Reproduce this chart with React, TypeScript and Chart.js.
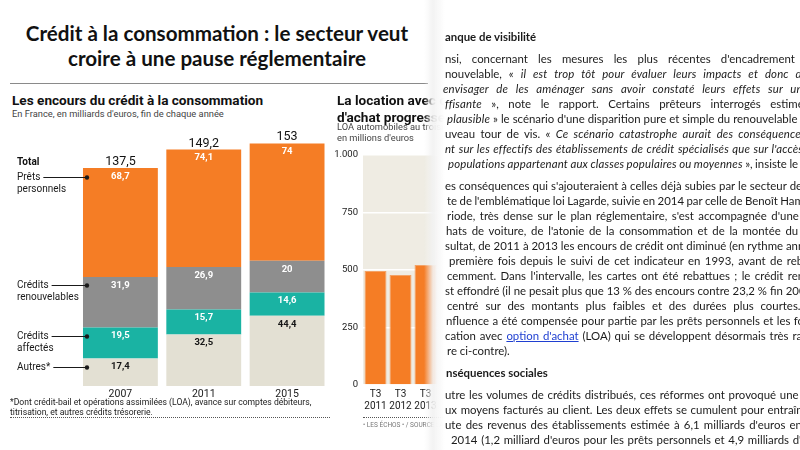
import React, { useEffect, useRef } from "react";
import { Chart, registerables } from "chart.js";

Chart.register(...registerables);

// ---- Data: encours du crédit à la consommation (milliards d'euros) ----
const years = ["2007", "2011", "2015"];
const autres = [17.4, 32.5, 44.4];
const creditsAffectes = [19.5, 15.7, 14.6];
const creditsRenouvelables = [31.9, 26.9, 20];
const pretsPersonnels = [68.7, 74.1, 74];
const seriesLabels = [["Autres*"], ["Crédits", "affectés"], ["Crédits", "renouvelables"], ["Prêts", "personnels"]];
const seriesColors = ["#e3e0d3", "#1ab3a3", "#8e8e8e", "#f57d25"];
const seriesTextColors = ["#161616", "#ffffff", "#ffffff", "#ffffff"];

// ---- Data: LOA automobiles (millions d'euros) ----
const loaLabels = [["T3", "2011"], ["T3", "2012"], ["T3", "2013"]];
const loaValues = [496, 478, 522];
const loaTicks = [0, 250, 500, 750, 1000];

type Seg = [string, "n" | "i" | "b" | "a"];
const articleLines: { y: number; x: number; ws: number; segs: Seg[] }[] = [
  { y: 37, x: 21, ws: 0, segs: [["anque de visibilité", "b"]] },
  { y: 59, x: 21, ws: 7.3, segs: [["nsi, concernant les mesures les plus récentes d'encadrement du crédit", "n"]] },
  { y: 74, x: 21, ws: 4.0, segs: [["nouvelable, « ", "n"], ["il est trop tôt pour évaluer leurs impacts et donc de", "i"]] },
  { y: 89, x: 19, ws: 4.8, segs: [["envisager de les aménager sans avoir constaté leurs effets sur une", "i"]] },
  { y: 104, x: 21, ws: 6.6, segs: [["ffisante", "i"], [" », note le rapport. Certains prêteurs interrogés estiment", "n"]] },
  { y: 119, x: 23, ws: 0.1, segs: [["plausible", "i"], [" » le scénario d'une disparition pure et simple du renouvelable", "n"]] },
  { y: 134, x: 21, ws: 2.4, segs: [["uveau tour de vis. « ", "n"], ["Ce scénario catastrophe aurait des conséquences", "i"]] },
  { y: 149, x: 21, ws: 0.6, segs: [["nt sur les effectifs des établissements de crédit spécialisés que sur l'accès", "i"]] },
  { y: 164, x: 24, ws: -0.4, segs: [["populations appartenant aux classes populaires ou moyennes", "i"], [" », insiste le", "n"]] },
  { y: 186, x: 21, ws: 0.15, segs: [["es conséquences qui s'ajouteraient à celles déjà subies par le secteur depuis", "n"]] },
  { y: 201, x: 23, ws: -0.45, segs: [["te de l'emblématique loi Lagarde, suivie en 2014 par celle de Benoît Hamon.", "n"]] },
  { y: 216, x: 23, ws: 1.6, segs: [["riode, très dense sur le plan réglementaire, s'est accompagnée d'une", "n"]] },
  { y: 231, x: 22, ws: 1.8, segs: [["hats de voiture, de l'atonie de la consommation et de la montée du", "n"]] },
  { y: 246, x: 21, ws: 0, segs: [["sultat, de 2011 à 2013 les encours de crédit ont diminué (en rythme annuel)", "n"]] },
  { y: 261, x: 25, ws: 1.5, segs: [["première fois depuis le suivi de cet indicateur en 1993, avant de rebondir", "n"]] },
  { y: 276, x: 23, ws: 1.5, segs: [["cemment. Dans l'intervalle, les cartes ont été rebattues ; le crédit renouvelable", "n"]] },
  { y: 291, x: 21, ws: 0, segs: [["st effondré (il ne pesait plus que 13 % des encours contre 23,2 % fin 2007)", "n"]] },
  { y: 306, x: 23, ws: 3.9, segs: [["centré sur des montants plus faibles et des durées plus courtes. Son", "n"]] },
  { y: 321, x: 22, ws: 0.5, segs: [["nfluence a été compensée pour partie par les prêts personnels et les formules", "n"]] },
  { y: 336, x: 21, ws: 1.0, segs: [["cation avec ", "n"], ["option d'achat", "a"], [" (LOA) qui se développent désormais très rapidement", "n"]] },
  { y: 351, x: 23, ws: 0, segs: [["re ci-contre).", "n"]] },
  { y: 373, x: 22, ws: 0, segs: [["nséquences sociales", "b"]] },
  { y: 395, x: 21, ws: 0.8, segs: [["utre les volumes de crédits distribués, ces réformes ont provoqué une baisse", "n"]] },
  { y: 410, x: 21, ws: 0.7, segs: [["ux moyens facturés au client. Les deux effets se cumulent pour entraîner", "n"]] },
  { y: 425, x: 21, ws: 1.3, segs: [["ute des revenus des établissements estimée à 6,1 milliards d'euros entre", "n"]] },
  { y: 440, x: 27, ws: 0.8, segs: [["2014 (1,2 milliard d'euros pour les prêts personnels et 4,9 milliards d'euros", "n"]] },
];

const fmt = (v: number) => String(Math.round(v * 10) / 10).replace(".", ",");
const GRAPH_FONT = "Roboto, 'Liberation Sans', sans-serif";

const encoursPlugin = {
  id: "encoursLabels",
  afterDatasetsDraw(chart: any) {
    const ctx = chart.ctx as CanvasRenderingContext2D;
    ctx.save();
    const n = chart.data.datasets.length;
    chart.data.datasets.forEach((ds: any, i: number) => {
      const meta = chart.getDatasetMeta(i);
      meta.data.forEach((el: any, j: number) => {
        const top = Math.min(el.y, el.base);
        ctx.font = `bold 9.5px ${GRAPH_FONT}`;
        ctx.fillStyle = seriesTextColors[i];
        ctx.textAlign = "center";
        ctx.textBaseline = "middle";
        ctx.fillText(fmt(ds.data[j]), el.x, top + 8.5);
      });
      const el0 = meta.data[0];
      const y = Math.round(Math.min(el0.y, el0.base) + 8.5);
      const left = el0.x - el0.width / 2;
      const lines = seriesLabels[i];
      ctx.font = `10px ${GRAPH_FONT}`;
      ctx.fillStyle = "#1a1a1a";
      ctx.textAlign = "left";
      ctx.textBaseline = "middle";
      lines.forEach((t, k) => ctx.fillText(t, 17, y + k * 12));
      const w = ctx.measureText(lines[0]).width;
      ctx.strokeStyle = "#1a1a1a";
      ctx.lineWidth = 1;
      ctx.beginPath();
      ctx.moveTo(17 + w + 3, y + 0.5);
      ctx.lineTo(left + 4, y + 0.5);
      ctx.stroke();
      ctx.beginPath();
      ctx.arc(left + 4, y + 0.5, 2.2, 0, Math.PI * 2);
      ctx.fill();
    });
    const topMeta = chart.getDatasetMeta(n - 1);
    topMeta.data.forEach((el: any, j: number) => {
      const total = chart.data.datasets.reduce((s: number, d: any) => s + d.data[j], 0);
      ctx.font = `12.5px ${GRAPH_FONT}`;
      ctx.fillStyle = "#111";
      ctx.textAlign = "center";
      ctx.textBaseline = "alphabetic";
      ctx.fillText(fmt(total), el.x, el.y - 3);
    });
    ctx.font = `bold 10px ${GRAPH_FONT}`;
    ctx.fillStyle = "#111";
    ctx.textAlign = "left";
    ctx.textBaseline = "middle";
    ctx.fillText("Total", 17, topMeta.data[0].y - 6);
    ctx.restore();
  },
};

const loaBgPlugin = {
  id: "loaBg",
  beforeDraw(chart: any) {
    const { ctx, chartArea } = chart;
    ctx.save();
    ctx.fillStyle = "#efece3";
    ctx.fillRect(chartArea.left, chartArea.top, chartArea.right - chartArea.left, chartArea.bottom - chartArea.top);
    ctx.restore();
  },
};

function EncoursChart() {
  const ref = useRef<HTMLCanvasElement>(null);
  useEffect(() => {
    const datasets = [autres, creditsAffectes, creditsRenouvelables, pretsPersonnels].map((data, i) => ({
      label: seriesLabels[i].join(" "),
      data,
      backgroundColor: seriesColors[i],
      borderWidth: 0,
      barPercentage: 75 / 83.5,
      categoryPercentage: 1,
    }));
    const chart = new Chart(ref.current!, {
      type: "bar",
      data: { labels: years, datasets },
      options: {
        animation: false,
        responsive: false,
        devicePixelRatio: 1,
        layout: { padding: { left: 78.75, right: 430 - 328.75, top: 386 - 160 * 1.585, bottom: 450 - 386 - 20 } },
        plugins: { legend: { display: false }, tooltip: { enabled: false } },
        scales: {
          x: {
            stacked: true,
            grid: { display: false, drawTicks: false },
            border: { display: false },
            ticks: { color: "#1a1a1a", font: { family: GRAPH_FONT, size: 10.5 }, padding: 2 },
            afterFit: (s: any) => {
              s.height = 20;
            },
          },
          y: { stacked: true, display: false, min: 0, max: 160 },
        },
      },
      plugins: [encoursPlugin],
    } as any);
    return () => chart.destroy();
  }, []);
  return <canvas ref={ref} width={430} height={450} style={{ position: "absolute", left: 0, top: 0, width: 430, height: 450 }} />;
}

function LoaChart() {
  const ref = useRef<HTMLCanvasElement>(null);
  useEffect(() => {
    const chart = new Chart(ref.current!, {
      type: "bar",
      data: {
        labels: loaLabels,
        datasets: [
          {
            label: "LOA",
            data: loaValues,
            backgroundColor: "#f57d25",
            borderColor: "#f3a266",
            borderWidth: 1,
            barPercentage: 22 / 25,
            categoryPercentage: 1,
          },
        ],
      },
      options: {
        animation: false,
        responsive: false,
        devicePixelRatio: 1,
        layout: { padding: { left: 0, right: 180 - 118, top: 15, bottom: 280 - 245 - 25 } },
        plugins: { legend: { display: false }, tooltip: { enabled: false } },
        scales: {
          x: {
            grid: { display: false, drawTicks: false },
            border: { display: false },
            ticks: {
              color: "#1a1a1a",
              font: { family: GRAPH_FONT, size: 10 },
              padding: 3,
              maxRotation: 0,
              minRotation: 0,
              autoSkip: false,
            },
            afterFit: (s: any) => {
              s.height = 25;
            },
          },
          y: {
            min: 0,
            max: 1000,
            afterBuildTicks: (s: any) => {
              s.ticks = loaTicks.map((v) => ({ value: v }));
            },
            grid: { color: "#ffffff", lineWidth: 1.5, drawTicks: false },
            border: { display: false },
            ticks: {
              color: "#1a1a1a",
              font: { family: GRAPH_FONT, size: 9.5 },
              padding: 5,
              callback: (v: any) => (Number(v) >= 1000 ? String(v).replace(/(\d)(\d{3})$/, "$1.$2") : String(v)),
            },
            afterFit: (s: any) => {
              s.width = 43;
            },
          },
        },
      },
      plugins: [loaBgPlugin],
    } as any);
    return () => chart.destroy();
  }, []);
  return <canvas ref={ref} width={180} height={280} style={{ position: "absolute", left: 320, top: 140, width: 180, height: 280 }} />;
}

function Article() {
  return (
    <div
      style={{
        position: "absolute",
        left: 424,
        top: 0,
        width: 376,
        height: 450,
        overflow: "hidden",
        background: "linear-gradient(to right, rgba(255,255,255,0) 0px, rgba(242,242,242,0.92) 9px, #ffffff 21px)",
        fontFamily: "Lato, 'Open Sans', sans-serif",
        fontSize: 11.4,
        color: "#1b1b1b",
      }}
    >
      {articleLines.map((ln, k) => (
        <div
          key={k}
          style={{ position: "absolute", left: ln.x, top: ln.y - 8, lineHeight: "16px", whiteSpace: "pre", wordSpacing: ln.ws }}
        >
          {ln.segs.map(([t, s], m) => (
            <span
              key={m}
              style={{
                fontStyle: s === "i" ? "italic" : "normal",
                fontWeight: s === "b" ? 700 : 400,
                letterSpacing: s === "i" ? 0.15 : undefined,
                color: s === "a" ? "#1f3fd1" : undefined,
                textDecoration: s === "a" ? "underline" : undefined,
              }}
            >
              {t}
            </span>
          ))}
        </div>
      ))}
    </div>
  );
}

export default function App() {
  return (
    <div style={{ position: "fixed", left: 0, top: 0, width: 800, height: 450, overflow: "hidden", background: "#fff" }}>
      <div
        style={{
          position: "absolute",
          left: 3,
          top: 21,
          width: 428,
          textAlign: "center",
          fontFamily: "Lato, sans-serif",
          fontWeight: 700,
          fontSize: 20.6,
          lineHeight: "25px",
          color: "#111",
        }}
      >
        Crédit à la consommation : le secteur veut
        <br />
        croire à une pause réglementaire
      </div>
      <div style={{ position: "absolute", left: 10, top: 83, width: 418, height: 1, background: "#8a8a8a" }} />

      <div style={{ position: "absolute", left: 12, top: 92, fontFamily: GRAPH_FONT, fontWeight: 700, fontSize: 13.6, lineHeight: "16px", color: "#111", whiteSpace: "nowrap" }}>
        Les encours du crédit à la consommation
      </div>
      <div style={{ position: "absolute", left: 12, top: 108, fontFamily: GRAPH_FONT, fontSize: 9.3, lineHeight: "12px", color: "#444", whiteSpace: "nowrap" }}>
        En France, en milliards d'euros, fin de chaque année
      </div>

      <EncoursChart />

      <div style={{ position: "absolute", left: 10, top: 398, fontFamily: GRAPH_FONT, fontSize: 8.6, lineHeight: "9.5px", color: "#1a1a1a", whiteSpace: "nowrap" }}>
        *Dont crédit-bail et opérations assimilées (LOA), avance sur comptes débiteurs,
        <br />
        titrisation, et autres crédits trésorerie.
      </div>
      <div style={{ position: "absolute", left: 10, top: 417, width: 320, height: 0, borderTop: "1px dotted #555" }} />

      <div style={{ position: "absolute", left: 337, top: 92, fontFamily: GRAPH_FONT, fontWeight: 700, fontSize: 13.6, lineHeight: "17px", color: "#111", whiteSpace: "nowrap" }}>
        La location avec option
        <br />
        d'achat progresse
      </div>
      <div style={{ position: "absolute", left: 337, top: 121, fontFamily: GRAPH_FONT, fontSize: 9.3, lineHeight: "11px", color: "#444", whiteSpace: "nowrap" }}>
        LOA automobiles au troisième trimestre,
        <br />
        en millions d'euros
      </div>

      <LoaChart />

      <div style={{ position: "absolute", left: 363, top: 417, width: 100, height: 0, borderTop: "1px dotted #555" }} />
      <div style={{ position: "absolute", left: 363, top: 421, fontFamily: GRAPH_FONT, fontSize: 6.5, lineHeight: "8px", color: "#777", whiteSpace: "nowrap" }}>
        • LES ÉCHOS • / SOURCE : ASF
      </div>

      <Article />
    </div>
  );
}
